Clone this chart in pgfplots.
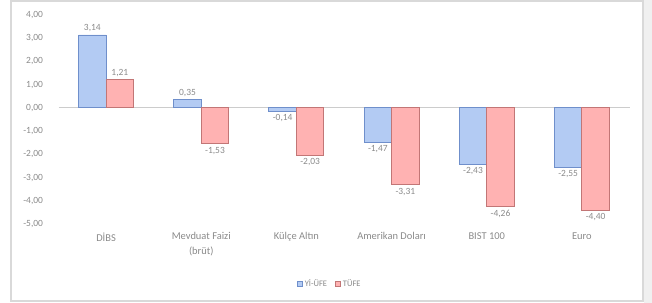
\documentclass[border=0pt]{standalone}
\usepackage{fontspec}
\setmainfont{Carlito}
\usepackage{pgfplots}
\pgfplotsset{compat=1.18}
\definecolor{txt}{HTML}{8A8A8A}
\definecolor{bfill}{HTML}{B3CBF3}
\definecolor{bdraw}{HTML}{6F8FCB}
\definecolor{rfill}{HTML}{FFB2B2}
\definecolor{rdraw}{HTML}{C27676}
\begin{document}
\begin{tikzpicture}
\useasboundingbox (0,0) rectangle (652bp,303bp);
\draw[black!15, line width=1.2bp] (11bp,2bp) rectangle (643bp,302bp);
\fill[black!6] (644bp,0bp) rectangle (652bp,303bp);
\begin{axis}[
  at={(58.5bp,79bp)}, anchor=south west,
  scale only axis, width=571bp, height=209bp,
  ymin=-5, ymax=4, ytick={-5,-4,...,4},
  xmin=-0.5, xmax=5.5, xtick=data,
  xticklabels={DİBS, {Mevduat Faizi\\(brüt)}, Külçe Altın, Amerikan Doları, BIST 100, Euro},
  xticklabel style={align=center, yshift=-5bp, font=\fontsize{10.5}{15}\selectfont, text=txt},
  yticklabel style={xshift=-12bp, font=\fontsize{9.5}{11}\selectfont, text=txt},
  axis line style={draw=none}, major tick length=0pt,
  /pgf/number format/.cd, fixed, fixed zerofill, precision=2, use comma, assume math mode=true,
  /pgfplots/.cd,
  ybar=0pt, bar width=27.5bp,
  extra y ticks={0}, extra y tick labels={},
  extra y tick style={grid=major, grid style={black!20, line width=0.8bp}},
  nodes near coords,
  every node near coord/.append style={font=\fontsize{9.5}{11}\selectfont, text=txt, inner sep=3bp},
  legend style={at={(0.475,-0.287)}, anchor=center, draw=none, legend columns=2,
    font=\fontsize{8.5}{10}\selectfont, text=txt,
    /tikz/every even column/.append style={column sep=6bp}},
  legend image code/.code={\draw[#1] (0bp,-2.5bp) rectangle (5bp,2.5bp);},
]
\addplot[fill=bfill, draw=bdraw, line width=0.9bp] coordinates {(0,3.14) (1,0.35) (2,-0.14) (3,-1.47) (4,-2.43) (5,-2.55)};
\addplot[fill=rfill, draw=rdraw, line width=0.9bp] coordinates {(0,1.21) (1,-1.53) (2,-2.03) (3,-3.31) (4,-4.26) (5,-4.40)};
\legend{Yİ-ÜFE, TÜFE}
\end{axis}
\end{tikzpicture}
\end{document}
